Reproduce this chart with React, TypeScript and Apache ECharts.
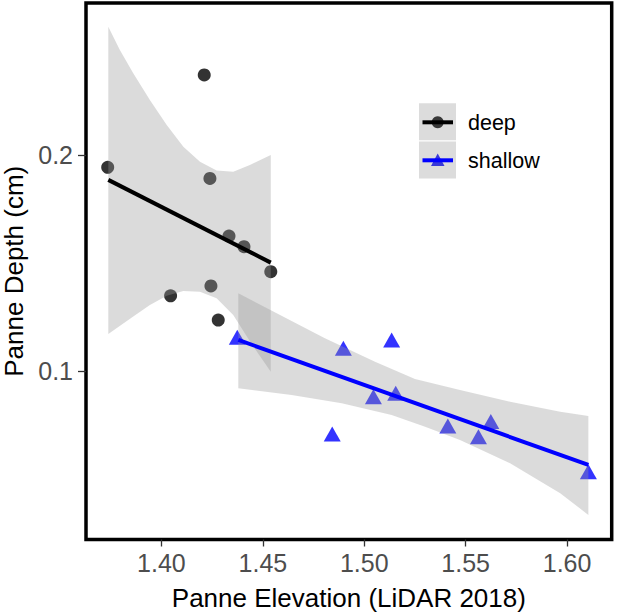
import React, { useEffect, useRef } from "react";
import * as echarts from "echarts";

// ---- data ----
const deepX = [1.3735, 1.4045, 1.4211, 1.4239, 1.4244, 1.428, 1.4333, 1.4407, 1.4539];
const deepY = [0.1945, 0.135, 0.2373, 0.1894, 0.1396, 0.1238, 0.1627, 0.1578, 0.1462];

const shallowX = [1.4374, 1.4842, 1.4897, 1.5045, 1.5135, 1.5155, 1.5412, 1.5563, 1.5624, 1.6105];
const shallowY = [0.1158, 0.0711, 0.1107, 0.0883, 0.1146, 0.0899, 0.0748, 0.0698, 0.0768, 0.0536];

const deepFitX = [1.3738, 1.4539];
const deepFitY = [0.1887, 0.1504];
const shallowFitX = [1.4379, 1.6105];
const shallowFitY = [0.1146, 0.0567];

const deepUpperX = [1.3738, 1.3795, 1.3861, 1.3943, 1.4026, 1.4108, 1.419, 1.4272, 1.4354, 1.4436, 1.4539];
const deepUpperY = [0.2596, 0.2488, 0.2381, 0.2257, 0.2141, 0.2041, 0.1971, 0.193, 0.1925, 0.1956, 0.2002];
const deepLowerX = [1.3738, 1.3861, 1.3943, 1.4026, 1.4108, 1.419, 1.4272, 1.4354, 1.4453, 1.4539];
const deepLowerY = [0.1174, 0.1254, 0.1308, 0.135, 0.1373, 0.1369, 0.1339, 0.1262, 0.1115, 0.0999];

const shallowUpperX = [1.4379, 1.4806, 1.5053, 1.525, 1.5472, 1.5719, 1.5966, 1.6105];
const shallowUpperY = [0.1362, 0.1154, 0.1045, 0.0965, 0.0914, 0.086, 0.0814, 0.0794];
const shallowLowerX = [1.4379, 1.4642, 1.4889, 1.5135, 1.53, 1.5472, 1.5719, 1.5966, 1.6105];
const shallowLowerY = [0.0922, 0.0891, 0.0853, 0.0799, 0.0744, 0.0683, 0.0575, 0.0436, 0.0336];

const xTicks = [1.4, 1.45, 1.5, 1.55, 1.6];
const yTicks = [0.1, 0.2];
const seriesNames = ["deep", "shallow"];

const FONT = "'Liberation Sans', Arial, Helvetica, sans-serif";
const BAND = "rgba(153,153,153,0.35)";

function zip(xs: number[], ys: number[]) {
  return xs.map((x, i) => [x, ys[i]]);
}

function bandPolygon(ux: number[], uy: number[], lx: number[], ly: number[]) {
  return [...zip(ux, uy), ...zip(lx, ly).reverse()];
}

function bandSeries(points: number[][]) {
  return {
    type: "custom",
    z: 3,
    silent: true,
    data: points,
    encode: { x: 0, y: 1 },
    renderItem: (params: any, api: any) => {
      if (params.dataIndex !== 0) return null;
      const pts = points.map((p) => api.coord(p));
      return {
        type: "polygon",
        shape: { points: pts },
        style: { fill: BAND, stroke: "none" },
      };
    },
  };
}

export default function App() {
  const ref = useRef<HTMLDivElement>(null);

  useEffect(() => {
    document.body.style.margin = "0";
    if (!ref.current) return;
    const chart = echarts.init(ref.current, undefined, { renderer: "svg" });

    const option: any = {
      animation: false,
      backgroundColor: "#ffffff",
      grid: {
        left: 86,
        top: 3,
        right: 9.3,
        bottom: 75.5,
        show: true,
        containLabel: false,
        outerBoundsMode: "none",
        borderColor: "#000000",
        borderWidth: 3.5,
        backgroundColor: "#ffffff",
      },
      xAxis: {
        type: "value",
        min: 1.3628,
        max: 1.622,
        name: "Panne Elevation (LiDAR 2018)",
        nameLocation: "middle",
        nameGap: 45,
        nameTextStyle: { fontSize: 26, color: "#000000", fontFamily: FONT },
        axisLine: { show: false },
        splitLine: { show: false },
        axisTick: {
          show: true,
          length: 7,
          customValues: xTicks,
          lineStyle: { color: "#333333", width: 1.3 },
        },
        axisLabel: {
          customValues: xTicks,
          formatter: (v: number) => v.toFixed(2),
          fontSize: 25,
          color: "#4D4D4D",
          fontFamily: FONT,
          margin: 11,
        },
      },
      yAxis: {
        type: "value",
        min: 0.0222,
        max: 0.2706,
        name: "Panne Depth (cm)",
        nameLocation: "middle",
        nameGap: 55,
        nameTextStyle: { fontSize: 26, color: "#000000", fontFamily: FONT },
        axisLine: { show: false },
        splitLine: { show: false },
        axisTick: {
          show: true,
          length: 8,
          customValues: yTicks,
          lineStyle: { color: "#333333", width: 1.3 },
        },
        axisLabel: {
          customValues: yTicks,
          formatter: (v: number) => String(Math.round(v * 10) / 10),
          fontSize: 25,
          color: "#4D4D4D",
          fontFamily: FONT,
          margin: 13,
        },
      },
      series: [
        {
          name: seriesNames[0],
          type: "scatter",
          z: 2,
          symbol: "circle",
          symbolSize: 13,
          itemStyle: { color: "#000000" },
          data: zip(deepX, deepY),
        },
        {
          name: seriesNames[1],
          type: "scatter",
          z: 2,
          symbol: "triangle",
          symbolSize: [17, 15],
          itemStyle: { color: "#0000FF" },
          data: zip(shallowX, shallowY),
        },
        bandSeries(bandPolygon(deepUpperX, deepUpperY, deepLowerX, deepLowerY)),
        bandSeries(bandPolygon(shallowUpperX, shallowUpperY, shallowLowerX, shallowLowerY)),
        {
          type: "line",
          z: 4,
          symbol: "none",
          lineStyle: { color: "#000000", width: 4 },
          data: zip(deepFitX, deepFitY),
        },
        {
          type: "line",
          z: 4,
          symbol: "none",
          lineStyle: { color: "#0000FF", width: 4 },
          data: zip(shallowFitX, shallowFitY),
        },
      ],
      graphic: [
        { type: "rect", z: 10, shape: { x: 419, y: 103.3, width: 37, height: 37 }, style: { fill: "#DCDCDC" } },
        { type: "rect", z: 10, shape: { x: 419, y: 141.5, width: 37, height: 37 }, style: { fill: "#DCDCDC" } },
        { type: "circle", z: 11, shape: { cx: 437.7, cy: 122.3, r: 6 }, style: { fill: "#383838" } },
        { type: "line", z: 12, shape: { x1: 422.5, y1: 122.3, x2: 453, y2: 122.3 }, style: { stroke: "#000000", lineWidth: 4 } },
        {
          type: "polygon",
          z: 11,
          shape: { points: [[437.7, 153.5], [444.5, 166], [431, 166]] },
          style: { fill: "#3838D8" },
        },
        { type: "line", z: 12, shape: { x1: 422.5, y1: 160.3, x2: 453, y2: 160.3 }, style: { stroke: "#0000FF", lineWidth: 4 } },
        {
          type: "text",
          z: 12,
          x: 468,
          y: 122.5,
          style: { text: seriesNames[0], fontSize: 21.5, fontFamily: FONT, fill: "#000000", verticalAlign: "middle", align: "left" },
        },
        {
          type: "text",
          z: 12,
          x: 468,
          y: 160.5,
          style: { text: seriesNames[1], fontSize: 21.5, fontFamily: FONT, fill: "#000000", verticalAlign: "middle", align: "left" },
        },
      ],
    };

    chart.setOption(option);
    return () => chart.dispose();
  }, []);

  return (
    <div
      ref={ref}
      style={{ position: "absolute", left: 0, top: 0, width: 621, height: 615, background: "#ffffff" }}
    />
  );
}
